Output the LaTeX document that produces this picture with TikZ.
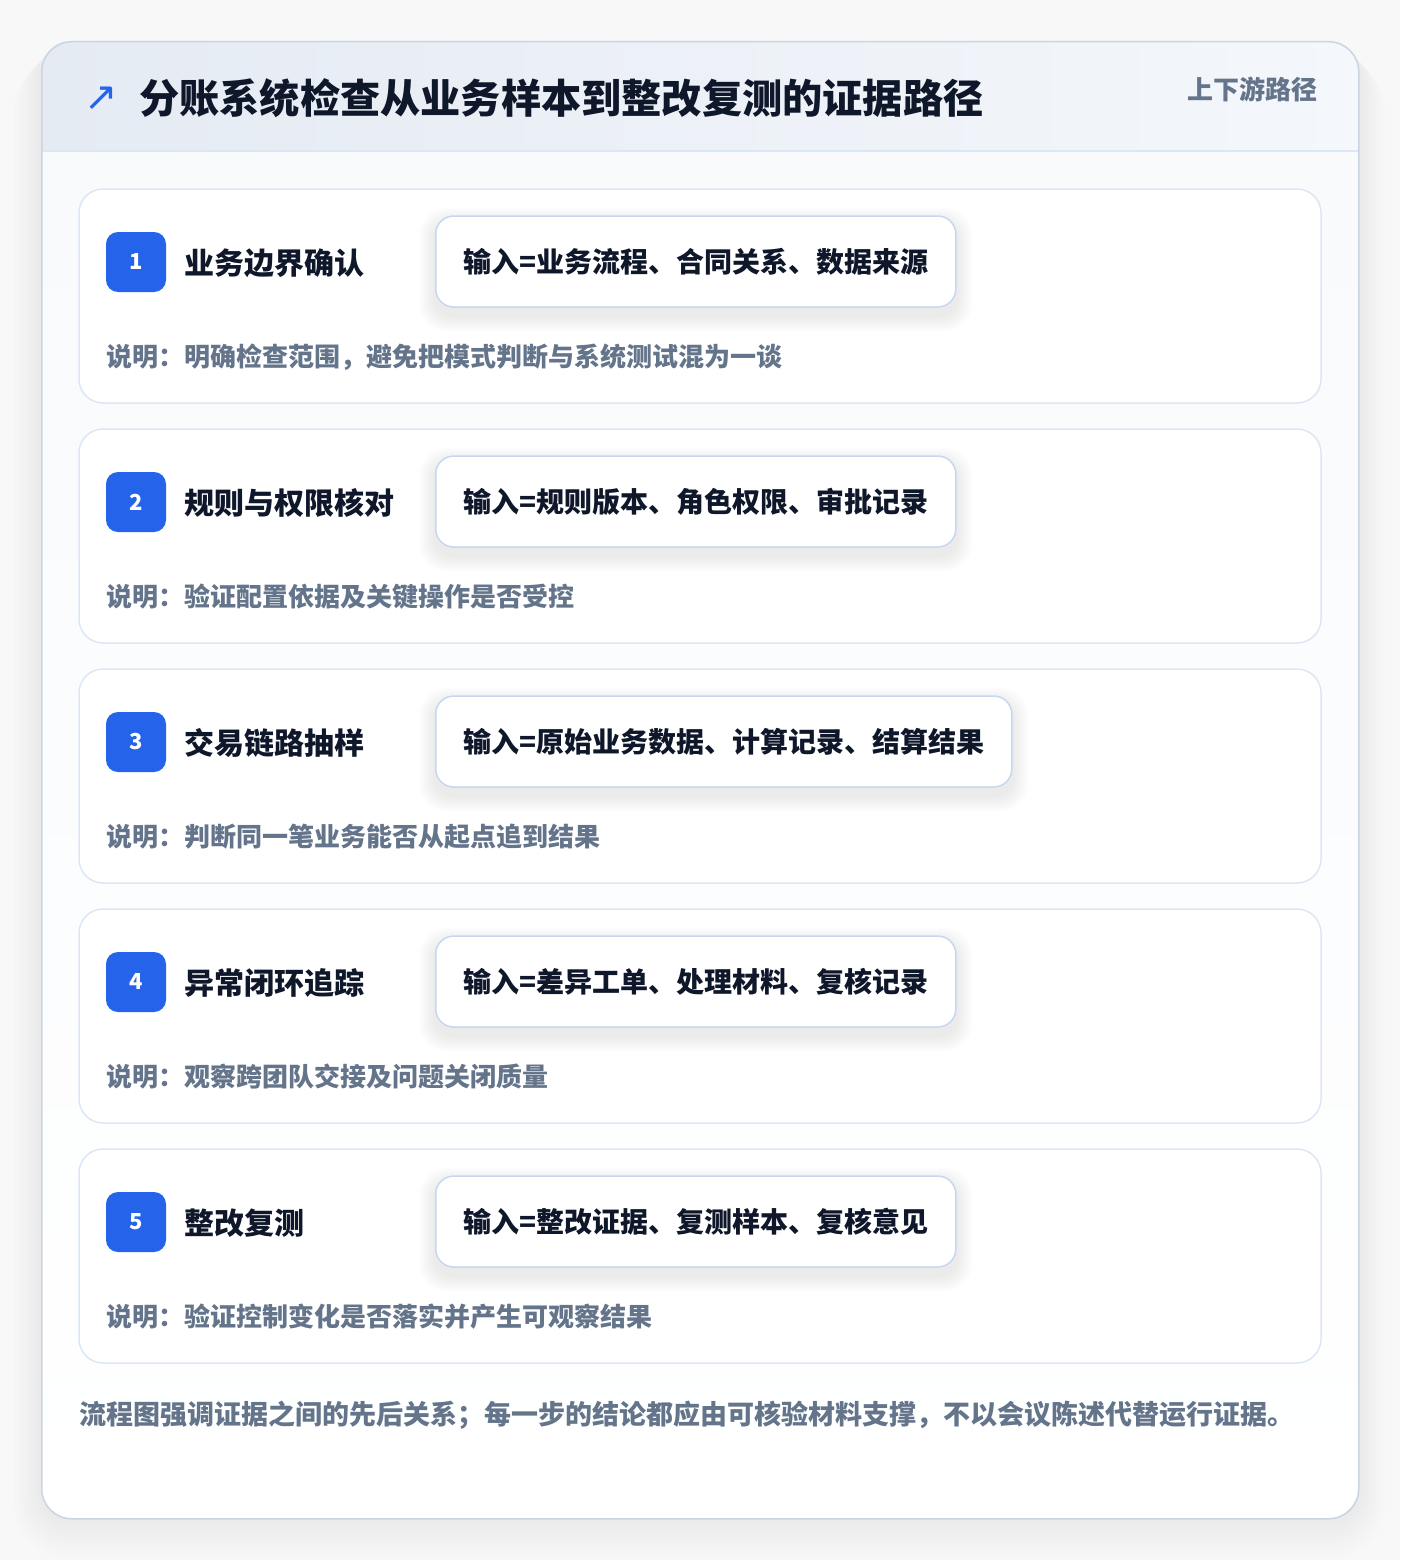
\documentclass[tikz,border=0pt]{standalone}
\usepackage{fontspec}
\setmainfont{Noto Sans CJK SC}
\newfontfamily\symfont{DejaVu Sans}
\definecolor{pagebg}{HTML}{F8F8F9}
\definecolor{cardborder}{HTML}{CBD5E1}
\definecolor{headL}{HTML}{E5EBF3}
\definecolor{headR}{HTML}{F4F7FB}
\definecolor{headline}{HTML}{DCE7F5}
\definecolor{bodybg}{HTML}{F8FAFC}
\definecolor{stepborder}{HTML}{DCE7F6}
\definecolor{inborder}{HTML}{C4D8F2}
\definecolor{accent}{HTML}{2563EB}
\definecolor{ink}{HTML}{0F172A}
\definecolor{muted}{HTML}{64748B}
\pgfdeclarelayer{back}
\pgfdeclarelayer{shade}
\pgfsetlayers{back,shade,main}
\tikzset{
  stepcard/.style={draw=stepborder, line width=1.5pt, fill=white, rounded corners=24pt},
  badgebox/.style={fill=accent, rounded corners=12pt, minimum width=60pt, minimum height=60pt, inner sep=0pt,
    text=white, font=\fontsize{22}{24}\selectfont\bfseries},
  steptitle/.style={anchor=west, inner sep=0pt, text=ink, font=\fontsize{30}{34}\selectfont\bfseries},
  inputbox/.style={anchor=west, draw=inborder, line width=1.5pt, fill=white, rounded corners=18pt,
    inner xsep=27.5pt, inner ysep=0pt, minimum height=91pt, text=ink, font=\fontsize{28}{32}\selectfont\bfseries},
  desctext/.style={anchor=west, inner sep=0pt, text=muted, font=\fontsize{26}{30}\selectfont\bfseries},
}
\begin{document}
\begin{tikzpicture}[x=1pt,y=-1pt]
\useasboundingbox (0,0) rectangle (1400,1560);
\begin{pgfonlayer}{back}
\fill[pagebg] (0,0) rectangle (1400,1560);
% outer shadow
\foreach \i in {1,...,14}{
  \fill[black, opacity=0.005, rounded corners={30pt+2*\i pt}]
    ({41-2*\i},{41-1*\i+2*\i}) rectangle ({1358+2*\i},{1518+1*\i+2*\i});
}
\begin{scope}
  \clip[rounded corners=30pt] (41,41) rectangle (1358,1518);
  \shade[top color=bodybg, bottom color=white] (41,151) rectangle (1358,1518);
  \shade[left color=headL, right color=headR] (41,41) rectangle (1358,151);
\end{scope}
\draw[headline, line width=1.5pt] (41,151) -- (1358,151);
\end{pgfonlayer}
% outer card outline
\node[draw=cardborder, line width=1.5pt, rounded corners=30pt, minimum width=1317pt, minimum height=1477pt, inner sep=0pt, anchor=north west] (outer) at (41,41) {};
% header texts
\node[anchor=center, inner sep=0pt, text=accent, font=\symfont\fontsize{40}{42}\selectfont] (icon) at (101,99) {↗};
\node[anchor=west, inner sep=0pt, text=ink, font=\fontsize{40.2}{46}\selectfont\bfseries] (title) at (139,98) {分账系统检查从业务样本到整改复测的证据路径};
\node[anchor=east, inner sep=0pt, text=muted, font=\fontsize{26}{30}\selectfont\bfseries] (tag) at (1318,89) {上下游路径};
% steps
\foreach \n/\t/\inp/\d in {
  1/业务边界确认/输入=业务流程、合同关系、数据来源/说明：明确检查范围，避免把模式判断与系统测试混为一谈,
  2/规则与权限核对/输入=规则版本、角色权限、审批记录/说明：验证配置依据及关键操作是否受控,
  3/交易链路抽样/输入=原始业务数据、计算记录、结算结果/说明：判断同一笔业务能否从起点追到结果,
  4/异常闭环追踪/输入=差异工单、处理材料、复核记录/说明：观察跨团队交接及问题关闭质量,
  5/整改复测/输入=整改证据、复测样本、复核意见/说明：验证控制变化是否落实并产生可观察结果}{
  \pgfmathsetmacro{\top}{189+240*(\n-1)}
  \begin{pgfonlayer}{back}
  \draw[stepcard] (79,\top) rectangle (1321,{\top+214});
  \end{pgfonlayer}
  \node[badgebox] (badge\n) at (136,{\top+73}) {\n};
  \node[steptitle] (stitle\n) at (184,{\top+74}) {\t};
  \node[inputbox] (input\n) at (435,{\top+72.5}) {\inp};
  \node[desctext] (desc\n) at (106,{\top+168}) {\d};
  \begin{pgfonlayer}{shade}
  \foreach \k in {1,...,10}{
    \fill[black, opacity=0.008, rounded corners={18pt+\k pt}]
      ([xshift={-1.6*\k pt}, yshift={-8pt+1.6*\k pt}]input\n.north west) rectangle
      ([xshift={1.6*\k pt}, yshift={-8pt-1.6*\k pt}]input\n.south east);
  }
  \end{pgfonlayer}
}
% footer
\node[anchor=west, inner sep=0pt, text=muted, font=\fontsize{27}{30}\selectfont\bfseries] (foot) at (79,1415) {流程图强调证据之间的先后关系；每一步的结论都应由可核验材料支撑，不以会议陈述代替运行证据。};
\end{tikzpicture}
\end{document}
